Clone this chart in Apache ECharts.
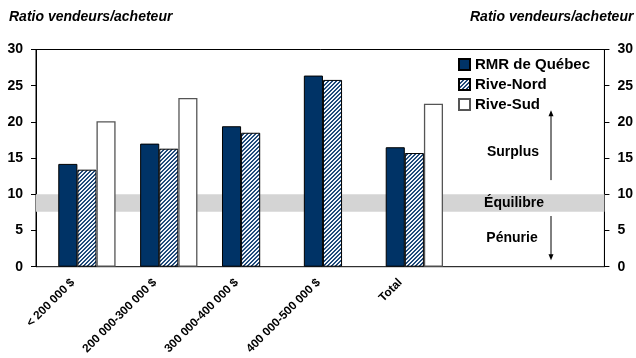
<!DOCTYPE html>
<html><head><meta charset="utf-8">
<script src="https://cdn.jsdelivr.net/npm/echarts@6/dist/echarts.min.js"></script>
<style>html,body{margin:0;padding:0;background:#fff}#c{width:636px;height:358px}</style>
</head><body><div id="c"></div>
<script>
const categories = ['< 200 000 $', '200 000-300 000 $', '300 000-400 000 $', '400 000-500 000 $', 'Total', '', ''];
const quebec = [14.2, 17.0, 19.4, 26.4, 16.5];
const nord = [13.4, 16.3, 18.5, 25.8, 15.7];
const sud = [20.1, 23.3, null, null, 22.5];
const yTicks = [0, 5, 10, 15, 20, 25, 30];
const band = [7.6, 10];
const FONT = 'Arial, "Liberation Sans", sans-serif';
const NAVY = '#003366';

// hatch pattern
const pc = document.createElement('canvas');
pc.width = 4; pc.height = 4;
const pctx = pc.getContext('2d');
const img = pctx.createImageData(4, 4);
for (let y = 0; y < 4; y++) for (let x = 0; x < 4; x++) {
  const i = (y * 4 + x) * 4;
  const dark = ((x + y) % 4) < 2;
  const c = dark ? [0x1f, 0x4a, 0x7a] : [0xf2, 0xf6, 0xfb];
  img.data[i] = c[0]; img.data[i+1] = c[1]; img.data[i+2] = c[2]; img.data[i+3] = 255;
}
pctx.putImageData(img, 0, 0);
const hatch = { image: pc, repeat: 'repeat' };

const chart = echarts.init(document.getElementById('c'), null, { renderer: 'canvas' });
const gTop = 49.5, gBottom = 358 - 266.7;
const yAxisBase = {
  type: 'value', min: 0, max: 30, interval: 5,
  splitLine: { show: false },
  axisLine: { show: true, lineStyle: { color: '#000', width: 1 } },
  axisTick: { show: true, length: 5, lineStyle: { color: '#000' } },
  axisLabel: { color: '#000', fontWeight: 'bold', fontSize: 14, fontFamily: FONT, margin: 13 }
};
const titleStyle = { fontSize: 14, fontWeight: 'bold', fontStyle: 'italic', fontFamily: FONT, color: '#000' };
const option = {
  animation: false,
  backgroundColor: '#fff',
  title: [
    { text: 'Ratio vendeurs/acheteur', left: 9, top: 10, textStyle: titleStyle, padding: 0 },
    { text: 'Ratio vendeurs/acheteur', left: 470, top: 10, textStyle: titleStyle, padding: 0 }
  ],
  grid: [
    { left: 36, right: 28, top: gTop, bottom: gBottom, show: true, borderColor: '#000', borderWidth: 1, backgroundColor: 'transparent' },
    { left: 46, width: 573, top: gTop, bottom: gBottom },
    { left: 32, width: 573, top: gTop, bottom: gBottom }
  ],
  xAxis: [
    { gridIndex: 0, type: 'value', min: 0, max: 1, show: false },
    { gridIndex: 1, type: 'category', data: categories, axisLine: { show: false }, axisTick: { show: false }, axisLabel: { show: false } },
    { gridIndex: 2, type: 'category', data: categories, axisLine: { show: false }, axisTick: { show: false },
      axisLabel: { show: true, interval: 0, rotate: 45, margin: 14, color: '#000', fontWeight: 'bold', fontSize: 11.8, fontFamily: FONT } }
  ],
  yAxis: [
    Object.assign({ gridIndex: 0, position: 'left' }, yAxisBase),
    Object.assign({ gridIndex: 0, position: 'right' }, yAxisBase),
    { gridIndex: 1, type: 'value', min: 0, max: 30, show: false },
    { gridIndex: 2, type: 'value', min: 0, max: 30, show: false }
  ],
  legend: {
    orient: 'vertical', left: 458, top: 57, padding: 0, itemGap: 5,
    itemWidth: 11, itemHeight: 11, icon: 'rect',
    data: ['RMR de Québec', 'Rive-Nord', 'Rive-Sud'],
    textStyle: { fontSize: 15, fontWeight: 'bold', fontFamily: FONT, color: '#000', padding: [0, 0, 0, 0] }
  },
  series: [
    { type: 'line', xAxisIndex: 0, yAxisIndex: 0, data: [], z: 1, silent: true,
      markArea: { silent: true, itemStyle: { color: '#d4d4d4' }, data: [[{ yAxis: band[0] }, { yAxis: band[1] }]] } },
    { name: 'RMR de Québec', type: 'bar', xAxisIndex: 1, yAxisIndex: 2, data: quebec, z: 3,
      barCategoryGap: '30%', barGap: '0%',
      itemStyle: { color: NAVY, borderColor: '#000', borderWidth: 1 } },
    { name: 'Rive-Nord', type: 'bar', xAxisIndex: 1, yAxisIndex: 2, data: nord, z: 3,
      barCategoryGap: '30%', barGap: '0%',
      itemStyle: { color: hatch, borderColor: '#000', borderWidth: 1 } },
    { name: 'Rive-Sud', type: 'bar', xAxisIndex: 1, yAxisIndex: 2, data: sud, z: 3,
      barCategoryGap: '30%', barGap: '0%',
      itemStyle: { color: '#fff', borderColor: '#555', borderWidth: 1.3 } }
  ]
};
chart.setOption(option);

// annotations
const yp = v => chart.convertToPixel({ yAxisIndex: 0 }, v);
const ax = 551;
const txt = (s, x, v) => ({ type: 'text', x: x, y: yp(v), style: { text: s, fill: '#000', font: 'bold 14px ' + FONT, textAlign: 'center', textVerticalAlign: 'middle' }, z: 10 });
const up1 = yp(11.96), up2 = yp(21.6), dn1 = yp(7.0), dn2 = yp(0.9);
chart.setOption({
  graphic: [
    txt('Surplus', 513, 15.8),
    txt('Équilibre', 514, 8.8),
    txt('Pénurie', 512, 3.95),
    { type: 'line', shape: { x1: ax, y1: up1, x2: ax, y2: up2 + 4 }, style: { stroke: '#000', lineWidth: 1 }, z: 10 },
    { type: 'polygon', shape: { points: [[ax, up2], [ax - 2.5, up2 + 6], [ax + 2.5, up2 + 6]] }, style: { fill: '#000' }, z: 10 },
    { type: 'line', shape: { x1: ax, y1: dn1, x2: ax, y2: dn2 - 4 }, style: { stroke: '#000', lineWidth: 1 }, z: 10 },
    { type: 'polygon', shape: { points: [[ax, dn2], [ax - 2.5, dn2 - 6], [ax + 2.5, dn2 - 6]] }, style: { fill: '#000' }, z: 10 }
  ]
});
</script>
</body></html>
